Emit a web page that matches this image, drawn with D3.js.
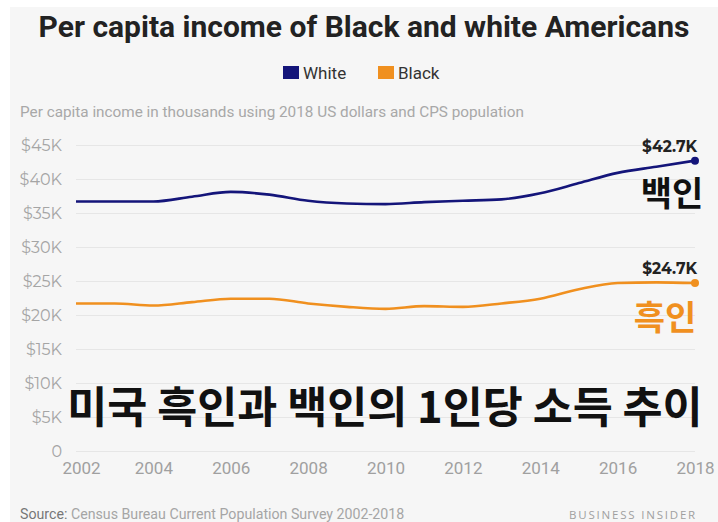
<!DOCTYPE html>
<html>
<head>
<meta charset="utf-8">
<script src="https://cdn.jsdelivr.net/npm/d3@7"></script>
<style>
  body { margin: 0; background: #fff; }
  svg { display: block; }
</style>
</head>
<body>
<div id="chart"></div>
<script>
// data (thousands of 2018 US dollars)
var years = [2002, 2003, 2004, 2005, 2006, 2007, 2008, 2009, 2010, 2011, 2012, 2013, 2014, 2015, 2016, 2017, 2018]
var white = [36.7, 36.7, 36.7, 37.4, 38.1, 37.7, 36.8, 36.4, 36.3, 36.6, 36.8, 37.0, 37.9, 39.4, 40.9, 41.8, 42.7]
var black = [21.7, 21.7, 21.4, 21.9, 22.4, 22.4, 21.7, 21.2, 20.9, 21.3, 21.2, 21.7, 22.4, 23.8, 24.7, 24.8, 24.7]
var yTicks = [0, 5, 10, 15, 20, 25, 30, 35, 40, 45]
var xTicks = [2002, 2004, 2006, 2008, 2010, 2012, 2014, 2016, 2018]
var seriesNames = ["White", "Black"]
var endLabels = ["$42.7K", "$24.7K"]

var W = 718, H = 522
var margin = {top: 145, right: 23, bottom: 71, left: 76}
var width = W - margin.left - margin.right,
    height = H - margin.top - margin.bottom

var color = d3.scaleOrdinal()
    .domain(seriesNames)
    .range(["#14157a", "#f0901f"])

var svg = d3.select("#chart")
    .append("svg")
    .attr("width", W)
    .attr("height", H)

// grey panel
svg.append("rect")
    .attr("x", 10).attr("y", 7)
    .attr("width", W - 10).attr("height", H - 7)
    .attr("fill", "#f6f6f6")

// title
svg.append("text")
    .attr("x", 364).attr("y", 37)
    .attr("text-anchor", "middle")
    .style("font-family", "Roboto, 'Noto Sans', sans-serif")
    .style("font-weight", "bold")
    .style("font-size", "30px")
    .attr("fill", "#222")
    .text("Per capita income of Black and white Americans")

// legend
var legend = svg.append("g").attr("transform", "translate(283,73)")
var lx = [0, 95]
seriesNames.forEach(function(name, i) {
    legend.append("rect")
        .attr("x", lx[i]).attr("y", -7)
        .attr("width", 16).attr("height", 13)
        .attr("fill", color(name))
    legend.append("text")
        .attr("x", lx[i] + 20).attr("y", 6)
        .style("font-family", "Roboto, sans-serif")
        .style("font-size", "17px")
        .attr("fill", "#333")
        .text(name)
})

// subtitle
svg.append("text")
    .attr("x", 20).attr("y", 117)
    .style("font-family", "Roboto, sans-serif")
    .style("font-size", "15.3px")
    .attr("fill", "#a8a8a8")
    .text("Per capita income in thousands using 2018 US dollars and CPS population")

var g = svg.append("g")
    .attr("transform", "translate(" + margin.left + "," + margin.top + ")")

var x = d3.scaleLinear()
    .domain([2002, 2018])
    .range([0, width])

var y = d3.scaleLinear()
    .domain([0, 45])
    .range([height, 0])

// grid + y labels
var yAxis = g.append("g")
    .call(d3.axisLeft(y)
        .tickValues(yTicks)
        .tickSize(-width)
        .tickFormat(function(d) { return d === 0 ? "0" : "$" + d + "K" }))
yAxis.select(".domain").remove()
yAxis.selectAll(".tick line")
    .attr("stroke", "#e6e6e6")
    .attr("stroke-width", 1.2)
yAxis.selectAll(".tick text")
    .attr("x", -14)
    .style("font-family", "Montserrat, 'Noto Sans', sans-serif")
    .style("font-size", "16px")
    .attr("fill", "#a5a5a5")

// x labels
var xAxis = g.append("g")
    .attr("transform", "translate(0," + height + ")")
    .call(d3.axisBottom(x)
        .tickValues(xTicks)
        .tickSize(0)
        .tickFormat(d3.format("d")))
xAxis.select(".domain").remove()
xAxis.selectAll(".tick text")
    .attr("dy", "1.2em")
    .attr("dx", function(d) { return d === 2002 ? 5 : 0 })
    .style("font-family", "Roboto, sans-serif")
    .style("font-size", "17px")
    .attr("fill", "#a0a0a0")

// lines
var series = [white, black]
var line = d3.line()
    .x(function(d, i) { return x(years[i]) })
    .y(function(d) { return y(d) })
    .curve(d3.curveMonotoneX)

series.forEach(function(vals, i) {
    var c = color(seriesNames[i])
    g.append("path")
        .datum(vals)
        .attr("d", line)
        .attr("fill", "none")
        .attr("stroke", c)
        .attr("stroke-width", 2.6)
    var last = vals.length - 1
    g.append("circle")
        .attr("cx", x(years[last]))
        .attr("cy", y(vals[last]))
        .attr("r", 4)
        .attr("fill", c)
    g.append("text")
        .attr("x", x(years[last]) + 2)
        .attr("y", y(vals[last]) - 9)
        .attr("text-anchor", "end")
        .style("font-family", "Montserrat, 'Noto Sans', sans-serif")
        .style("font-weight", "bold")
        .style("font-size", "15.5px")
        .attr("fill", "#222")
        .text(endLabels[i])
})

// Korean overlay text
var kfont = "'Noto Sans CJK KR', sans-serif"
svg.append("text")
    .attr("x", 672).attr("y", 206)
    .attr("text-anchor", "middle")
    .style("font-family", kfont)
    .style("font-weight", "bold")
    .style("font-size", "34px")
    .attr("fill", "#111")
    .text("백인")
svg.append("text")
    .attr("x", 665).attr("y", 330)
    .attr("text-anchor", "middle")
    .style("font-family", kfont)
    .style("font-weight", "bold")
    .style("font-size", "34px")
    .attr("fill", "#f0901f")
    .text("흑인")
svg.append("text")
    .attr("x", 385).attr("y", 423)
    .attr("text-anchor", "middle")
    .style("font-family", kfont)
    .style("font-weight", "bold")
    .style("font-size", "43.5px")
    .attr("fill", "#111")
    .text("미국 흑인과 백인의 1인당 소득 추이")

// footer
var src = svg.append("text")
    .attr("x", 20).attr("y", 519)
    .style("font-family", "Roboto, sans-serif")
    .style("font-size", "14.2px")
    .attr("fill", "#a5a5a5")
src.append("tspan").attr("fill", "#777").text("Source:")
src.append("tspan").text(" Census Bureau Current Population Survey 2002-2018")

svg.append("text")
    .attr("x", 697).attr("y", 519)
    .attr("text-anchor", "end")
    .style("font-family", "'Open Sans', sans-serif")
    .style("font-size", "11.5px")
    .style("letter-spacing", "1.8px")
    .attr("fill", "#a0a0a0")
    .text("BUSINESS INSIDER")
</script>
</body>
</html>
